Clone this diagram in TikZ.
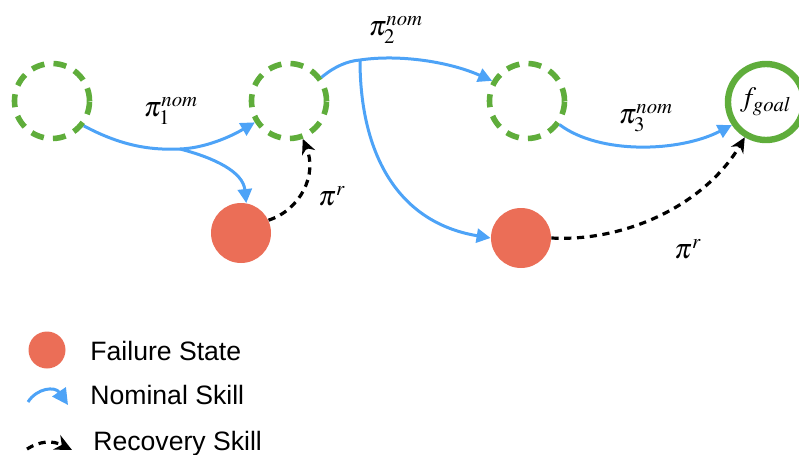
\documentclass[tikz,border=0pt]{standalone}
\usepackage{mathptmx}
\usepackage{fontspec}
\setsansfont{Liberation Sans}
\usetikzlibrary{arrows.meta}

\begin{document}
\begin{tikzpicture}[x=0.5pt,y=-0.5pt,
    state/.style={circle, draw=StateGreen, line width=2.8pt, dash pattern=on 6.5pt off 4.6pt, inner sep=0pt, minimum size=37.5pt},
    goalstate/.style={circle, draw=StateGreen, line width=3.2pt, inner sep=0pt, minimum size=38pt, font=\fontsize{14}{16}\selectfont},
    failure/.style={circle, fill=FailRed, inner sep=0pt, minimum size=30pt},
    nominal/.style={draw=SkillBlue, line width=1.5pt, -{Triangle[length=7pt,width=7pt]}},
    recovery/.style={line width=1.6pt, dash pattern=on 3.6pt off 2.8pt, -{Stealth[length=7.5pt,width=7pt]}},
    skilllabel/.style={font=\fontsize{14}{16}\selectfont},
    legendtext/.style={anchor=west, inner sep=0pt, font=\sffamily\fontsize{13.3}{16}\selectfont}]
    \definecolor{StateGreen}{HTML}{5FAD3B}
    \definecolor{SkillBlue}{HTML}{4DA3F7}
    \definecolor{FailRed}{HTML}{EB6E57}
    \useasboundingbox (0,0) rectangle (799,455);

    \node[state] (s0) at (52,101) {};
    \node[state] (s1) at (289,101) {};
    \node[state] (s2) at (527,101) {};
    \node[goalstate] (goal) at (766,102) {$f_{goal}$};
    \node[failure] (fail1) at (241,233) {};
    \node[failure] (fail2) at (521,238) {};
    \coordinate (b1) at (180,149);
    \coordinate (b2) at (360,60);

    \draw[nominal, -] (s0.-38) .. controls (125,148) and (155,150) .. (b1);
    \draw[nominal] (b1) .. controls (205,148) and (230,137) .. (s1.-148);
    \draw[nominal] (b1) .. controls (215,158) and (243,172) .. (fail1.80);
    \draw[nominal, -] (s1.36) .. controls (335,66) and (348,61) .. (b2);
    \draw[nominal] (b2) .. controls (400,54) and (450,62) .. (s2.150);
    \draw[nominal] (b2) .. controls (360,150) and (395,222) .. (fail2.180);
    \draw[nominal] (s2.-36) .. controls (600,155) and (680,152) .. (goal.-146);

    \draw[recovery] (fail1.25) .. controls (300,210) and (318,175) .. (s1.-70);
    \draw[recovery] (fail2.0) .. controls (625,242) and (705,205) .. (goal.-121);

    \node[skilllabel] (pi1) at (171,111) {$\pi_1^{nom}$};
    \node[skilllabel] (pi2) at (396,30) {$\pi_2^{nom}$};
    \node[skilllabel] (pi3) at (646,118) {$\pi_3^{nom}$};
    \node[skilllabel] (rec1) at (332,196) {$\pi^r$};
    \node[skilllabel] (rec2) at (688,249) {$\pi^r$};

    \node[failure, minimum size=18.5pt] (legfail) at (47,350) {};
    \node[legendtext] (legfailtext) at (90,351) {Failure State};
    \coordinate (nomA) at (28,402);
    \coordinate (nomB) at (68,405);
    \draw[nominal, -{Triangle[length=8pt,width=8pt]}] (nomA) .. controls (37,388) and (55,386) .. (nomB);
    \node[legendtext] (legnomtext) at (90,395) {Nominal Skill};
    \coordinate (recA) at (27,449);
    \coordinate (recB) at (72,450);
    \draw[recovery, -{Stealth[length=8.5pt,width=8pt]}] (recA) .. controls (40,441) and (52,440) .. (recB);
    \node[legendtext] (legrectext) at (93,444) {Recovery Skill};
\end{tikzpicture}
\end{document}
